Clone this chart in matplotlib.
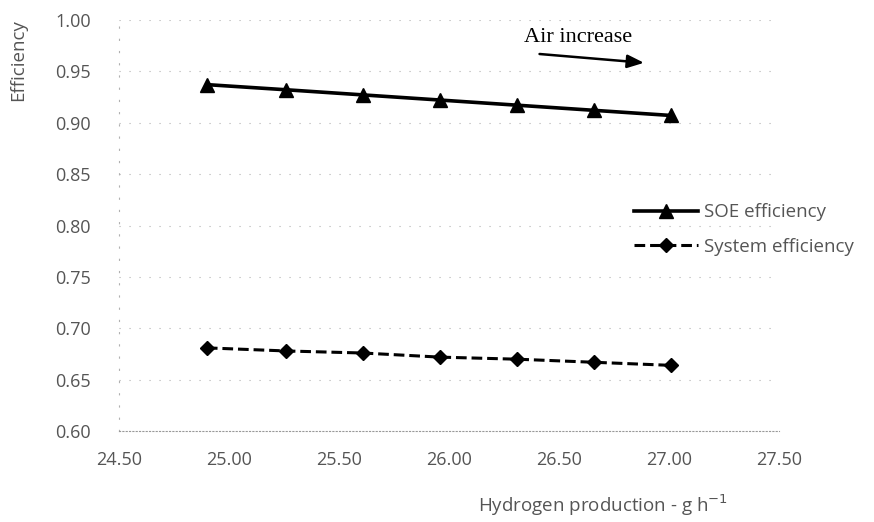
import matplotlib
matplotlib.use("Agg")
import matplotlib.pyplot as plt

hydrogen = [24.90, 25.26, 25.61, 25.96, 26.31, 26.66, 27.01]
soe_eff = [0.937, 0.932, 0.927, 0.922, 0.917, 0.912, 0.907]
sys_eff = [0.681, 0.678, 0.676, 0.672, 0.670, 0.667, 0.664]
x_ticks = [24.50, 25.00, 25.50, 26.00, 26.50, 27.00, 27.50]
y_ticks = [0.60, 0.65, 0.70, 0.75, 0.80, 0.85, 0.90, 0.95, 1.00]

plt.rcParams['font.family'] = ['Open Sans', 'DejaVu Sans']
txt_col = '#555555'

fig = plt.figure(figsize=(8.74, 5.22), dpi=100)
ax = fig.add_axes([0.136, 0.174, 0.755, 0.788])

ax.plot(hydrogen, soe_eff, color='black', lw=2.6, marker='^', markersize=10,
        label='SOE efficiency')
ax.plot(hydrogen, sys_eff, color='black', lw=2.2, ls=(0, (3.5, 1.6)), marker='D',
        markersize=7.5, label='System efficiency')

ax.set_xlim(24.5, 27.5)
ax.set_ylim(0.60, 1.00)
ax.set_xticks(x_ticks)
ax.set_yticks(y_ticks)
ax.set_xticklabels([f"{v:.2f}" for v in x_ticks])
ax.set_yticklabels([f"{v:.2f}" for v in y_ticks])
ax.tick_params(axis='both', length=0, labelsize=13, colors=txt_col, pad=14)
ax.tick_params(axis='y', pad=20)

ax.grid(axis='y', color='#b0b0b0', ls=(0, (1, 8)), lw=0.8)
for s in ['top', 'right']:
    ax.spines[s].set_visible(False)
ax.spines['left'].set_color('#b0b0b0')
ax.spines['left'].set_linestyle((0, (1, 10)))
ax.spines['left'].set_linewidth(0.8)
ax.spines['bottom'].set_color('#999999')
ax.spines['bottom'].set_linestyle((0, (1, 2)))
ax.spines['bottom'].set_linewidth(0.8)

leg = ax.legend(loc='center left', bbox_to_anchor=(0.77, 0.49), frameon=False,
                fontsize=13.5, handlelength=3.4, handletextpad=0.3,
                labelspacing=0.9, borderaxespad=0)
for t in leg.get_texts():
    t.set_color(txt_col)

ax.annotate('', xy=(26.90, 0.958), xytext=(26.40, 0.967),
            arrowprops=dict(arrowstyle='-|>,head_length=1.0,head_width=0.4',
                            color='black', lw=1.8))
ax.text(26.34, 0.983, 'Air increase', family=['Liberation Serif', 'DejaVu Serif'],
        fontsize=16, color='black', ha='left', va='center')

fig.text(0.690, 0.032, 'Hydrogen production - g h$^{-1}$', fontsize=13.5,
         color=txt_col, ha='center', va='center')
fig.text(0.021, 0.885, 'Efficiency', fontsize=13.5, color=txt_col, rotation=90,
         ha='center', va='center')

fig.savefig('out.png', dpi=100)
